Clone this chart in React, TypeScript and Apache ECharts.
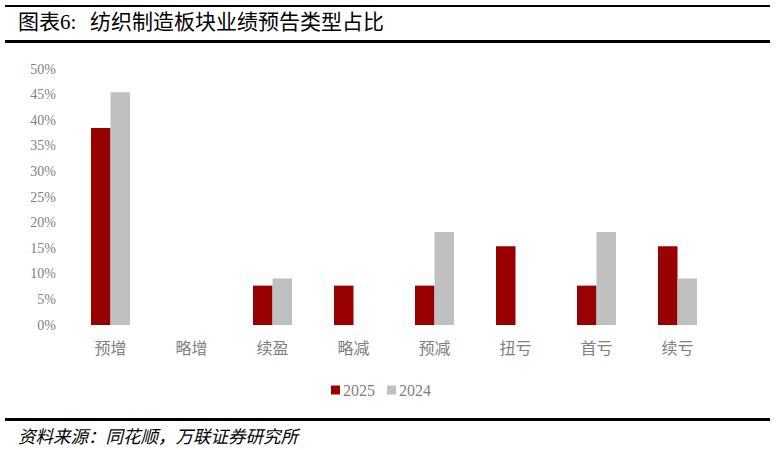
import React, { useEffect, useRef } from "react";
import * as echarts from "echarts";

const categories = ["预增", "略增", "续盈", "略减", "预减", "扭亏", "首亏", "续亏"];
const share2025 = [38.46, 0, 7.69, 7.69, 7.69, 15.38, 7.69, 15.38];
const share2024 = [45.45, 0, 9.09, 0, 18.18, 0, 18.18, 9.09];
const seriesNames = ["2025", "2024"];

const FONT = "'Liberation Serif', 'Noto Sans CJK SC', serif";
const GRAY = "#808080";

const App: React.FC = () => {
    const chartRef = useRef<HTMLDivElement>(null);

    useEffect(() => {
        document.body.style.margin = "0";
        const chart = echarts.init(chartRef.current!, null, { renderer: "svg" });

        const option: any = {
            animation: false,
            graphic: [
                { type: "rect", shape: { x: 5, y: 5, width: 765, height: 2 }, style: { fill: "#000" } },
                {
                    type: "text", x: 18, y: 22,
                    style: { text: "图表6:", font: `21px ${FONT}`, fill: "#000", verticalAlign: "middle" },
                },
                {
                    type: "text", x: 90, y: 22,
                    style: { text: "纺织制造板块业绩预告类型占比", font: `21px ${FONT}`, fill: "#000", verticalAlign: "middle" },
                },
                { type: "rect", shape: { x: 5, y: 40, width: 765, height: 3 }, style: { fill: "#000" } },
                { type: "rect", shape: { x: 5, y: 418, width: 765, height: 3 }, style: { fill: "#000" } },
                {
                    type: "text", x: 18, y: 437,
                    style: { text: "资料来源：同花顺，万联证券研究所", font: `italic 17.5px ${FONT}`, fill: "#000", verticalAlign: "middle" },
                },
            ],
            legend: {
                data: seriesNames,
                left: 326,
                top: 377,
                icon: "rect",
                itemWidth: 9,
                itemHeight: 9,
                itemGap: 12,
                textStyle: { fontFamily: FONT, fontSize: 16, color: GRAY, padding: [0, 0, 0, -2] },
            },
            grid: { left: 70, right: 58, top: 69, bottom: 125 },
            xAxis: {
                type: "category",
                data: categories,
                axisLine: { show: false },
                axisTick: { show: false },
                axisLabel: { fontFamily: FONT, fontSize: 16, color: GRAY, margin: 15 },
            },
            yAxis: {
                type: "value",
                min: 0,
                max: 50,
                interval: 5,
                splitLine: { show: false },
                axisLine: { show: false },
                axisTick: { show: false },
                axisLabel: { formatter: "{value}%", fontFamily: FONT, fontSize: 14, color: GRAY, margin: 14 },
            },
            series: [
                {
                    name: seriesNames[0],
                    type: "bar",
                    data: share2025,
                    barWidth: 19.5,
                    barGap: "0%",
                    itemStyle: { color: "#990000" },
                },
                {
                    name: seriesNames[1],
                    type: "bar",
                    data: share2024,
                    barWidth: 19.5,
                    barGap: "0%",
                    itemStyle: { color: "#C0C0C0" },
                },
            ],
        };

        chart.setOption(option);

        return () => {
            chart.dispose();
        };
    }, []);

    return <div style={{ width: "776px", height: "450px" }} ref={chartRef}></div>;
};

export default App;
